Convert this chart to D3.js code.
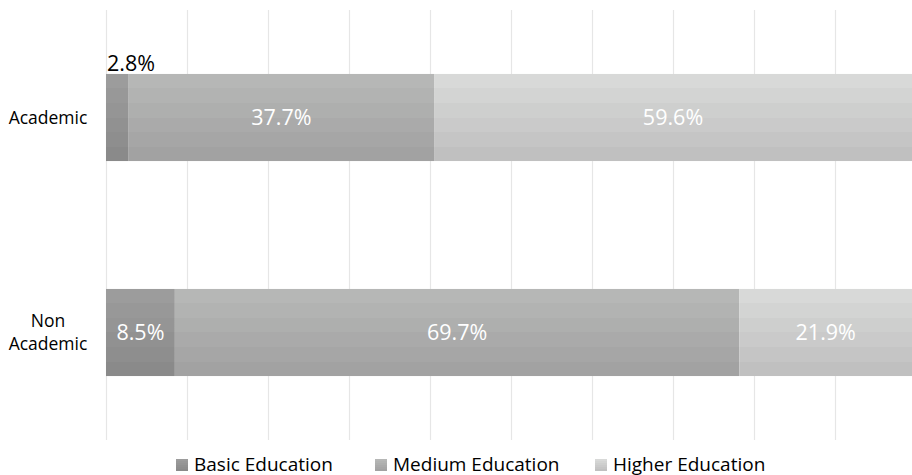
<!DOCTYPE html>
<html><head><meta charset="utf-8">
<script src="https://cdn.jsdelivr.net/npm/d3@7"></script>
<style>body{margin:0;background:#fff;} svg{display:block;font-family:"Open Sans",sans-serif;}</style>
</head><body>
<svg id="chart" width="912" height="475"></svg>
<script>
const categories = ["Academic", "Non Academic"];
const seriesNames = ["Basic Education", "Medium Education", "Higher Education"];
const basicValues = [2.8, 8.5];
const mediumValues = [37.7, 69.7];
const higherValues = [59.6, 21.9];
const xTicks = [0, 10, 20, 30, 40, 50, 60, 70, 80, 90, 100];

const colors = {
  "Basic Education": ["#9c9c9c", "#8a8a8a"],
  "Medium Education": ["#b6b7b6", "#a2a2a2"],
  "Higher Education": ["#d8d9d8", "#c0c0c0"]
};

const svg = d3.select("#chart");
const x = d3.scaleLinear().domain([0, 100]).range([106, 916]);
const y = d3.scaleBand().domain(categories).range([10, 440]).paddingInner(0.595).paddingOuter(0.2975);

const defs = svg.append("defs");
seriesNames.forEach((s, i) => {
  const g = defs.append("linearGradient").attr("id", "g" + i).attr("x1", 0).attr("y1", 0).attr("x2", 0).attr("y2", 1);
  const c = d3.interpolateRgb(colors[s][0], colors[s][1]);
  const n = 6;
  for (let k = 0; k < n; k++) {
    const col = c(k / (n - 1));
    g.append("stop").attr("offset", (k / n)).attr("stop-color", col);
    g.append("stop").attr("offset", ((k + 1) / n)).attr("stop-color", col);
  }
});

svg.append("g").selectAll("line").data(xTicks).join("line")
  .attr("x1", d => Math.round(x(d)) + 0.5).attr("x2", d => Math.round(x(d)) + 0.5)
  .attr("y1", 10).attr("y2", 440)
  .attr("stroke", "#e6e6e6").attr("stroke-width", 1.2);

const rows = categories.map((c, i) => ({cat: c, vals: [basicValues[i], mediumValues[i], higherValues[i]]}));
const stack = rows.map(r => {
  let acc = 0;
  return r.vals.map((v, j) => { const s = {cat: r.cat, j, v, x0: acc, x1: acc + v}; acc += v; return s; });
}).flat();

svg.append("g").selectAll("rect").data(stack).join("rect")
  .attr("x", d => x(d.x0)).attr("width", d => x(d.x1) - x(d.x0))
  .attr("y", d => y(d.cat)).attr("height", y.bandwidth())
  .attr("fill", d => `url(#g${d.j})`);

svg.append("g").selectAll("text").data(stack).join("text")
  .attr("x", d => d.v < 5 ? x(d.x0) + 1 : (x(d.x0) + Math.min(x(d.x1), 912)) / 2)
  .attr("y", d => d.v < 5 ? y(d.cat) - 3 : y(d.cat) + y.bandwidth() / 2 + 7.5)
  .attr("text-anchor", d => d.v < 5 ? "start" : "middle")
  .attr("font-size", 21.5)
  .attr("fill", d => d.v < 5 ? "#000" : "#fff")
  .text(d => d.v.toFixed(1) + "%");

const yl = svg.append("g").selectAll("text").data(categories).join("text")
  .attr("x", 48).attr("text-anchor", "middle").attr("font-size", 17.5).attr("fill", "#000");
yl.each(function(d) {
  const words = d.split(" ");
  const t = d3.select(this);
  const cy = y(d) + y.bandwidth() / 2;
  words.forEach((w, k) => {
    t.append("tspan").attr("x", 48).attr("y", cy + 6 + (k - (words.length - 1) / 2) * 23).text(w);
  });
});

const legendX = [176, 375, 595];
const lg = svg.append("g").selectAll("g").data(seriesNames).join("g")
  .attr("transform", (d, i) => `translate(${legendX[i]},465)`);
lg.append("rect").attr("x", 0).attr("y", -6).attr("width", 12).attr("height", 12).attr("fill", (d, i) => `url(#g${i})`);
lg.append("text").attr("x", 18).attr("y", 5.5).attr("font-size", 19).attr("fill", "#000").text(d => d);
</script>
</body></html>
